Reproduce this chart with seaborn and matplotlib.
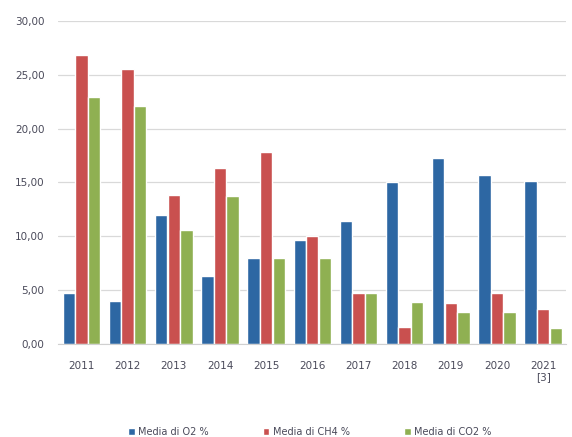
import pandas as pd
import numpy as np
import matplotlib.pyplot as plt
import seaborn as sns
from matplotlib.ticker import FuncFormatter

# valori
anni = ["2011", "2012", "2013", "2014", "2015", "2016", "2017", "2018", "2019", "2020", "2021\n[3]"]
o2 = [4.7, 4.0, 12.0, 6.3, 8.0, 9.7, 11.4, 15.0, 17.3, 15.7, 15.1]
ch4 = [26.8, 25.5, 13.8, 16.3, 17.8, 10.0, 4.7, 1.6, 3.8, 4.7, 3.2]
co2 = [22.9, 22.1, 10.6, 13.7, 8.0, 8.0, 4.7, 3.9, 3.0, 3.0, 1.5]
serie = ["Media di O2 %", "Media di CH4 %", "Media di CO2 %"]
colori = ["#2d67a3", "#c9504f", "#8fb052"]

df = pd.DataFrame({"Anno": anni, serie[0]: o2, serie[1]: ch4, serie[2]: co2})
df = df.melt(id_vars="Anno", var_name="Serie", value_name="Valore")

sns.set_style("white")
fig = plt.figure(figsize=(5.72, 4.37), dpi=100)
ax = fig.add_axes([0.102, 0.213, 0.888, 0.739])

sns.barplot(data=df, x="Anno", y="Valore", hue="Serie", palette=colori,
            width=0.82, gap=0.02, ax=ax, saturation=1)

ax.set_ylim(0, 30)
ax.set_yticks(np.arange(0, 31, 5))
ax.yaxis.set_major_formatter(FuncFormatter(lambda v, p: f"{v:.2f}".replace(".", ",")))
ax.grid(axis="y", color="#d9d9d9", linewidth=0.9)
ax.set_axisbelow(True)
for s in ax.spines.values():
    s.set_visible(False)
ax.spines["bottom"].set_visible(True)
ax.spines["bottom"].set_color("#d0d0d0")
ax.tick_params(axis="both", length=0, labelsize=7.5, colors="#4a4a5a")
ax.tick_params(axis="x", pad=12)
ax.tick_params(axis="y", pad=10)
ax.set_xlabel("")
ax.set_ylabel("")

ax.legend(loc="center", bbox_to_anchor=(0.495, -0.272), ncol=3, frameon=False,
          fontsize=7, handlelength=0.7, handleheight=0.7, columnspacing=5.5,
          handletextpad=0.4, labelcolor="#4a4a5a")

plt.savefig("out.png", dpi=100)
